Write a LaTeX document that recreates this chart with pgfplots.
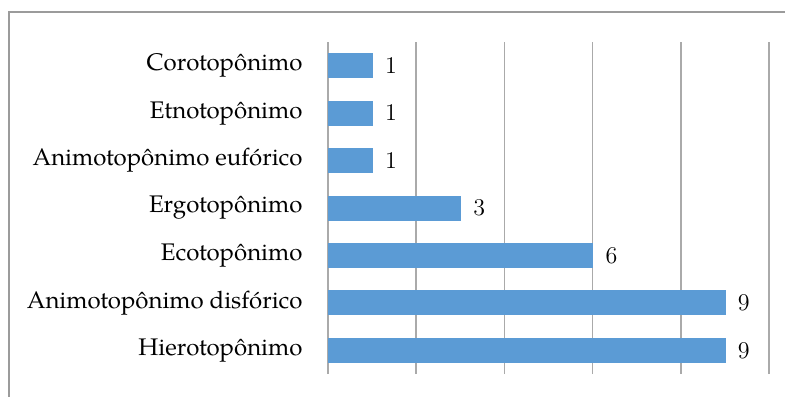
\documentclass[border=0pt]{standalone}
\usepackage{fontspec}
\setmainfont{TeX Gyre Pagella}
\usepackage{pgfplots}
\pgfplotsset{compat=1.18}
\definecolor{barblue}{RGB}{91,155,213}
\definecolor{gridgray}{RGB}{170,170,170}
\definecolor{framegray}{RGB}{155,155,155}
\begin{document}
\begin{tikzpicture}
\useasboundingbox (0,0) rectangle (392.5pt,198.5pt);
\draw[framegray, line width=0.7pt] (392.5pt,192.5pt) -- (4.5pt,192.5pt) -- (4.5pt,0pt);
\begin{axis}[
  at={(164pt,11.5pt)}, anchor=south west,
  scale only axis,
  width=220.5pt, height=166pt,
  xbar, bar width=12pt,
  xmin=0, xmax=10,
  ymin=-0.5, ymax=6.5,
  xtick={0,2,4,6,8,10}, xticklabels={},
  xmajorgrids,
  major grid style={gridgray, line width=0.75pt},
  ytick={0,1,2,3,4,5,6},
  yticklabels={Hierotopônimo,Animotopônimo disfórico,Ecotopônimo,Ergotopônimo,Animotopônimo eufórico,Etnotopônimo,Corotopônimo},
  yticklabel style={font=\fontsize{12}{14}\selectfont, xshift=-5pt},
  axis line style={draw=none},
  tick style={draw=none},
  nodes near coords,
  nodes near coords style={font=\fontsize{12}{14}\selectfont, anchor=west, xshift=3pt},
  clip=false,
]
\addplot[fill=barblue, draw=barblue] coordinates {
(9,0) (9,1) (6,2) (3,3) (1,4) (1,5) (1,6)
};
\end{axis}
\end{tikzpicture}
\end{document}
